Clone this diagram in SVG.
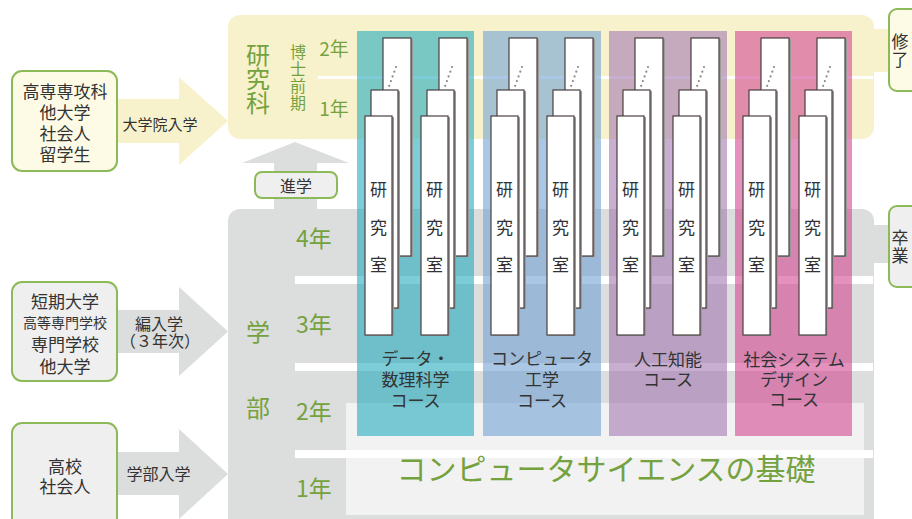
<svg xmlns="http://www.w3.org/2000/svg" width="912" height="519" viewBox="0 0 912 519">
<style>
text{font-family:"Noto Sans CJK JP","Noto Sans",sans-serif;dominant-baseline:central;text-anchor:middle;fill:#333}
.v{writing-mode:vertical-rl;dominant-baseline:auto}
.g{fill:#74a23e}
.box{stroke:#8cba58;stroke-width:2}
.lab{fill:#fff;stroke:#4a4040;stroke-width:1.2}
.sh{fill:#9a9a9a}
.dots{stroke:#8a8a8a;stroke-width:2.2;stroke-linecap:round;stroke-dasharray:0 5}
.t17{font-size:17px}
</style>
<defs>
<g id="stack">
<rect class="sh" x="28" y="39" width="28" height="218"/>
<rect class="lab" x="26" y="38" width="28" height="218"/>
<line class="dots" x1="39" y1="67" x2="31" y2="89"/>
<rect class="sh" x="16" y="91" width="27" height="218"/>
<rect class="lab" x="14" y="90" width="27" height="218"/>
<rect class="sh" x="10" y="117" width="27" height="219"/>
<rect class="lab" x="8" y="116" width="27" height="219"/>
<text class="t17"><tspan x="21.5" y="188">研</tspan><tspan x="21.5" y="226">究</tspan><tspan x="21.5" y="263">室</tspan></text>
</g>
</defs>

<g id="panels">
<rect x="228" y="15" width="646" height="124" rx="12" fill="#f8f2cc"/>
<rect x="870" y="29" width="22" height="43" fill="#f8f2cc"/>
<rect x="228" y="209" width="646" height="330" rx="12" fill="#dcdddd"/>
<rect x="870" y="225" width="22" height="38" fill="#dcdddd"/>
<rect x="346" y="403" width="518" height="112" fill="#f2f2f2"/>
<rect x="318" y="76" width="555" height="3" fill="#fff"/>
<rect x="295" y="276" width="578" height="8" fill="#fff"/>
<rect x="295" y="363" width="578" height="8" fill="#fff"/>
<rect x="295" y="450" width="578" height="8" fill="#fff"/>
</g>

<g id="connectors">
<path d="M117 99H179V77L228 121L179 165V143H117Z" fill="#f8f2cc"/>
<path d="M117 310H179V287L228 331.5L179 376V353H117Z" fill="#dcdddd"/>
<path d="M117 452H179V429L228 474L179 519V495H117Z" fill="#dcdddd"/>
<path d="M274 209V163H242L295 142L349 163H317V209Z" fill="#dcdddd"/>
</g>

<g id="labels-grad">
<text class="g v" x="258" y="79" font-size="24">研究科</text>
<text class="g v" x="298" y="78" font-size="16" letter-spacing="1">博士前期</text>
<text class="g" x="334" y="47" font-size="19">2年</text>
<text class="g" x="334" y="107" font-size="19">1年</text>
</g>

<g id="labels-undergrad">
<text class="g" x="258" y="330" font-size="24">学</text>
<text class="g" x="258" y="406" font-size="24">部</text>
<text class="g" x="314" y="237" font-size="23">4年</text>
<text class="g" x="314" y="323" font-size="23">3年</text>
<text class="g" x="314" y="410" font-size="23">2年</text>
<text class="g" x="314" y="487" font-size="23">1年</text>
</g>

<g id="course-data">
<rect x="357" y="31" width="117" height="405" fill="#26acbe" fill-opacity="0.6"/>
<use href="#stack" x="357"/>
<use href="#stack" x="413"/>
<text class="t17"><tspan x="415.5" y="357">データ・</tspan><tspan x="415.5" y="378">数理科学</tspan><tspan x="415.5" y="399">コース</tspan></text>
</g>
<g id="course-ce">
<rect x="483" y="31" width="118" height="405" fill="#71a3d5" fill-opacity="0.6"/>
<use href="#stack" x="483"/>
<use href="#stack" x="539"/>
<text class="t17"><tspan x="542" y="357">コンピュータ</tspan><tspan x="542" y="378">工学</tspan><tspan x="542" y="399">コース</tspan></text>
</g>
<g id="course-ai">
<rect x="609" y="31" width="118" height="405" fill="#a37ab4" fill-opacity="0.6"/>
<use href="#stack" x="609"/>
<use href="#stack" x="665"/>
<text class="t17"><tspan x="668" y="358">人工知能</tspan><tspan x="668" y="378">コース</tspan></text>
</g>
<g id="course-sd">
<rect x="735" y="31" width="117" height="405" fill="#d24893" fill-opacity="0.6"/>
<use href="#stack" x="735"/>
<use href="#stack" x="791"/>
<text class="t17"><tspan x="794" y="358">社会システム</tspan><tspan x="794" y="378">デザイン</tspan><tspan x="794" y="398">コース</tspan></text>
</g>

<g id="foundation">
<text class="g" x="606" y="467" font-size="30">コンピュータサイエンスの基礎</text>
</g>

<g id="src-grad">
<rect class="box" x="12" y="71" width="105" height="100" rx="10" fill="#fdfbe6"/>
<text font-size="17"><tspan x="65" y="90">高専専攻科</tspan><tspan x="65" y="111">他大学</tspan><tspan x="65" y="132">社会人</tspan><tspan x="65" y="153">留学生</tspan></text>
<text x="160" y="123" font-size="15">大学院入学</text>
</g>
<g id="src-transfer">
<rect class="box" x="12" y="282" width="105" height="99" rx="10" fill="#efefef"/>
<text font-size="17"><tspan x="65" y="300">短期大学</tspan><tspan x="65" y="322" font-size="14">高等専門学校</tspan><tspan x="65" y="343">専門学校</tspan><tspan x="65" y="365">他大学</tspan></text>
<text font-size="16"><tspan x="159" y="323">編入学</tspan><tspan x="160" y="340">（３年次）</tspan></text>
</g>
<g id="src-hs">
<rect class="box" x="12" y="423" width="105" height="105" rx="10" fill="#efefef"/>
<text font-size="17"><tspan x="65" y="465">高校</tspan><tspan x="65" y="485">社会人</tspan></text>
<text x="158.5" y="473" font-size="16">学部入学</text>
</g>
<g id="advance">
<rect class="box" x="255" y="172" width="82" height="26" rx="7" fill="#efefef"/>
<text x="296" y="185" font-size="16">進学</text>
</g>
<g id="complete">
<rect class="box" x="889" y="9" width="30" height="82" rx="8" fill="#fdfbe6"/>
<text class="v" x="900" y="51" font-size="17" letter-spacing="1">修了</text>
</g>
<g id="graduate">
<rect class="box" x="889" y="206" width="30" height="81" rx="8" fill="#efefef"/>
<text class="v" x="900" y="247" font-size="17" letter-spacing="1">卒業</text>
</g>
</svg>
